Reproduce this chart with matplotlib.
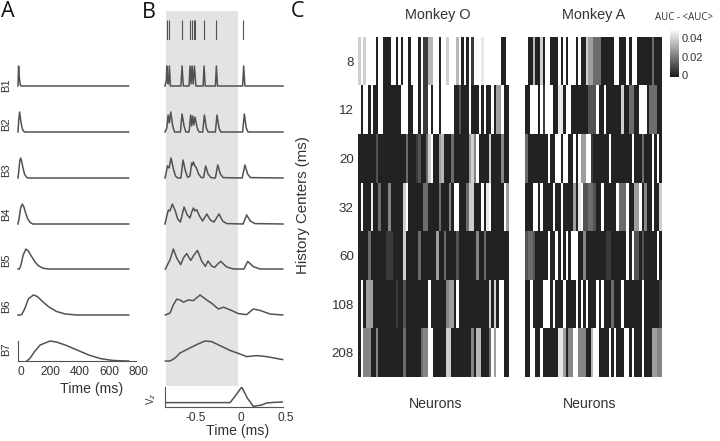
import numpy as np
import matplotlib
matplotlib.use('Agg')
import matplotlib.pyplot as plt
from matplotlib.colors import LinearSegmentedColormap
from matplotlib.transforms import ScaledTranslation

plt.rcParams['font.family'] = ['Liberation Sans', 'DejaVu Sans']

W, H = 720, 441
LINE = '#525252'
TEXT = '#333333'

# panel A, basis functions (time in ms, height 0-1)
a_t = [
    [0, 4, 8, 14, 20, 750],
    [0, 5, 11, 18, 26, 34, 44, 750],
    [0, 6, 12, 18, 26, 34, 44, 56, 66, 750],
    [0, 8, 18, 29, 40, 52, 66, 82, 100, 750],
    [0, 10, 20, 35, 54, 70, 90, 115, 140, 170, 205, 750],
    [0, 15, 25, 45, 70, 104, 130, 170, 210, 260, 320, 400, 750],
    [59, 80, 110, 150, 217, 260, 320, 400, 480, 560, 640, 725, 750],
]
a_y = [
    [0, 1, 0.5, 0.1, 0, 0],
    [0, 0.6, 1, 0.6, 0.25, 0.08, 0, 0],
    [0, 0.4, 0.85, 1, 0.8, 0.5, 0.2, 0.05, 0, 0],
    [0, 0.3, 0.8, 1, 0.85, 0.55, 0.25, 0.08, 0, 0],
    [0, 0, 0.2, 0.7, 1, 0.9, 0.65, 0.35, 0.15, 0.04, 0, 0],
    [0, 0, 0.02, 0.3, 0.8, 1, 0.93, 0.65, 0.4, 0.18, 0.05, 0, 0],
    [0, 0.12, 0.45, 0.8, 1, 0.95, 0.8, 0.55, 0.3, 0.12, 0.03, 0, 0],
]
basis_names = ['B1', 'B2', 'B3', 'B4', 'B5', 'B6', 'B7']

# panel B, spikes and filtered traces
spike_times = [-0.781, -0.752, -0.616, -0.524, -0.506, -0.484, -0.469, -0.37, -0.234, 0.063]

b_t = [
    [-0.80, -0.785, -0.78, -0.77, -0.762, -0.752, -0.74, -0.625, -0.612, -0.598, -0.535, -0.524, -0.513, -0.502,
     -0.49, -0.476, -0.46, -0.38, -0.37, -0.357, -0.245, -0.234, -0.222, 0.055, 0.067, 0.08, 0.5],
    [-0.80, -0.78, -0.766, -0.752, -0.737, -0.715, -0.695, -0.63, -0.612, -0.59, -0.57, -0.535, -0.517, -0.506,
     -0.495, -0.482, -0.469, -0.445, -0.425, -0.385, -0.366, -0.345, -0.325, -0.245, -0.227, -0.205, -0.185,
     0.055, 0.074, 0.095, 0.115, 0.5],
    [-0.80, -0.785, -0.774, -0.755, -0.733, -0.71, -0.685, -0.66, -0.625, -0.601, -0.575, -0.55, -0.525, -0.506,
     -0.497, -0.487, -0.472, -0.458, -0.43, -0.40, -0.375, -0.352, -0.325, -0.295, -0.245, -0.219, -0.19, -0.16,
     0.05, 0.081, 0.11, 0.14, 0.5],
    [-0.80, -0.78, -0.763, -0.745, -0.719, -0.69, -0.66, -0.63, -0.59, -0.555, -0.525, -0.505, -0.487, -0.47,
     -0.451, -0.42, -0.385, -0.34, -0.30, -0.26, -0.205, -0.165, -0.12, 0.06, 0.10, 0.14, 0.19, 0.5],
    [-0.796, -0.744, -0.708, -0.671, -0.627, -0.598, -0.561, -0.517, -0.48, -0.443, -0.396, -0.355, -0.326,
     -0.286, -0.253, -0.219, -0.186, -0.12, -0.047, 0.07, 0.111, 0.173, 0.247, 0.496],
    [-0.796, -0.744, -0.708, -0.671, -0.634, -0.598, -0.543, -0.487, -0.414, -0.341, -0.286, -0.212, -0.157,
     -0.084, 0.008, 0.1, 0.173, 0.247, 0.357, 0.496],
    [-0.796, -0.744, -0.689, -0.634, -0.561, -0.451, -0.359, -0.286, -0.194, -0.084, 0.026, 0.1, 0.21, 0.32, 0.496],
]
b_y = [
    [0, 0.3, 1, 0.15, 0.1, 1, 0, 0, 1, 0, 0, 1, 0.1, 1, 0.1, 1, 0, 0, 1, 0, 0, 1, 0, 0, 1, 0, 0],
    [0, 0.2, 0.85, 0.45, 1, 0.3, 0, 0, 0.9, 0.3, 0, 0, 0.85, 0.3, 0.8, 0.35, 0.75, 0.2, 0, 0, 0.85, 0.2, 0,
     0, 0.85, 0.2, 0, 0, 0.9, 0.2, 0, 0],
    [0, 0.3, 0.6, 0.5, 1, 0.5, 0.1, 0, 0, 0.9, 0.35, 0.03, 0.1, 0.75, 0.65, 0.8, 0.6, 0.55, 0.2, 0.02, 0.02,
     0.6, 0.2, 0.02, 0, 0.65, 0.2, 0.02, 0, 0.65, 0.2, 0.02, 0],
    [0, 0.4, 0.7, 0.65, 1, 0.7, 0.25, 0.1, 0.85, 0.45, 0.3, 0.6, 0.8, 0.65, 0.72, 0.4, 0.15, 0.5, 0.2, 0.1,
     0.5, 0.15, 0.02, 0, 0.45, 0.15, 0.02, 0],
    [0, 0.47, 1, 0.55, 0.22, 0.55, 0.77, 0.43, 0.7, 0.93, 0.4, 0.13, 0.4, 0.15, 0.08, 0.25, 0.38, 0.1, 0, 0,
     0.38, 0.12, 0, 0],
    [0, 0.1, 0.51, 0.79, 0.75, 0.64, 0.75, 0.72, 1, 0.75, 0.59, 0.3, 0.39, 0.26, 0.07, 0.02, 0.3, 0.23, 0.05, 0],
    [0, 0, 0.15, 0.4, 0.57, 0.82, 1, 0.97, 0.77, 0.53, 0.35, 0.22, 0.27, 0.22, 0.07],
]

vz_t = [-0.796, -0.084, -0.029, 0.045, 0.107, 0.173, 0.265, 0.32, 0.394, 0.496]
vz_y = [0.22, 0.22, 0.53, 1, 0.45, 0.03, 0.1, 0.2, 0.23, 0.25]

# panel C, AUC levels by history centre (one digit per neuron, 0 dark to 9 white)
history_centers = ['8', '12', '20', '32', '60', '108', '208']
auc_step = 0.0056

monkey_o = [
    '797999909900099090990999091166990997999690909199989999999009',
    '909909009900000009990099091190990999990020009000909009055900',
    '000000020000000000030001200379005600030000005749000070000400',
    '090008003000400000790000003300003000409900037700090890000095',
    '000030000001110000700000300000050030000200000004003000000000',
    '090555000000000100200000000090000004550900000000000070709900',
    '094440040000000000300000034499000007700000000406600039599900',
]
monkey_a = [
    '900600709900090909990900755333000009900090990000003000',
    '009990919990088099000000022290090000007003300999033300',
    '300000000900990990090955991000000900000000900030009090',
    '000990900009009000050892233200900000933390055904009007',
    '233200000900909090999004000000001100000090922020000090',
    '009000099909000900009090900090900030009000000090000001',
    '009900900000088504499444006990000909000990900090005544',
]

cbar_ticks = [0, 0.02, 0.04]
cbar_labels = ['0', '0.02', '0.04']

fig = plt.figure(figsize=(W / 100, H / 100), dpi=100)


def pixel_axes(left, top, right, bottom, **kw):
    ax = fig.add_axes([left / W, 1 - bottom / H, (right - left) / W, (bottom - top) / H], **kw)
    ax.patch.set_alpha(0)
    for s in ax.spines.values():
        s.set_visible(False)
    ax.set_xticks([])
    ax.set_yticks([])
    return ax


def label(x, y, s, size=10, **kw):
    kw.setdefault('color', TEXT)
    kw.setdefault('va', 'center')
    fig.text(x / W, 1 - y / H, s, fontsize=size, ha='center', **kw)


def bottom_axis(ax, ticks, shift):
    ax.spines['left'].set_visible(True)
    ax.spines['bottom'].set_visible(True)
    ax.spines['left'].set_color(LINE)
    ax.spines['bottom'].set_color(LINE)
    ax.spines['left'].set_linewidth(0.8)
    ax.spines['bottom'].set_linewidth(0.8)
    ax.set_xticks(ticks)
    ax.tick_params(axis='x', length=0, pad=3.5, labelsize=8.6, labelcolor=TEXT)
    for t in ax.get_xticklabels():
        t.set_transform(t.get_transform() + ScaledTranslation(shift / 100, 0, fig.dpi_scale_trans))


# panel A
tops_a = [66, 112, 158, 204, 249, 295, 341]
for i in range(7):
    ax = pixel_axes(18, tops_a[i], 136, tops_a[i] + 20)
    ax.plot(a_t[i], a_y[i], color=LINE, lw=1.1, clip_on=False)
    ax.set_xlim(0, 800)
    ax.set_ylim(0, 1)
    if i == 6:
        bottom_axis(ax, [0, 200, 400, 600, 800], 2.5)

for y, s in zip([85, 124, 170, 214, 260, 306, 349], basis_names):
    label(6, y, s, size=8, rotation=90)
label(92, 389, 'Time (ms)', size=10.2)

# panel B
bg = pixel_axes(165, 11, 283, 386)
bg.set_xlim(-0.8, 0.5)
bg.axvspan(-0.789, 0, color='#e3e3e3', lw=0)

ax = pixel_axes(165, 20, 283, 40)
ax.vlines(spike_times, 0, 1, color=LINE, lw=0.8)
ax.set_xlim(-0.8, 0.5)
ax.set_ylim(0, 1)

for i in range(7):
    ax = pixel_axes(165, tops_a[i], 283, tops_a[i] + 20)
    ax.plot(b_t[i], b_y[i], color=LINE, lw=1.1, clip_on=False)
    ax.set_xlim(-0.8, 0.5)
    ax.set_ylim(0, 1)

ax = pixel_axes(165, 387, 283, 407)
ax.plot(vz_t, vz_y, color=LINE, lw=1.1)
ax.set_xlim(-0.8, 0.5)
ax.set_ylim(0, 1)
bottom_axis(ax, [-0.5, 0, 0.5], 3)
ax.set_xticklabels(['-0.5', '0', '0.5'])
label(151, 399, 'V$_z$', size=7, rotation=90)
label(238, 431, 'Time (ms)', size=10.2)

# panel C
cmap = LinearSegmentedColormap.from_list('auc', ['#1a1a1a', '#ffffff'])


def heat(rows, left, right):
    vals = np.array([[int(c) for c in r] for r in rows]) * auc_step
    ax = pixel_axes(left, 37, right, 377)
    return ax, ax.imshow(vals, cmap=cmap, vmin=-0.002, vmax=0.05, aspect='auto', interpolation='nearest')


ax, im = heat(monkey_o, 358, 509)
ax.set_yticks(range(7))
ax.set_yticklabels(history_centers)
ax.tick_params(axis='y', length=0, pad=3, labelsize=9.6, labelcolor=TEXT)
heat(monkey_a, 525, 662)

cax = pixel_axes(670, 29, 679, 77)
cb = fig.colorbar(im, cax=cax)
cb.outline.set_visible(False)
cb.set_ticks(cbar_ticks)
cb.set_ticklabels(cbar_labels)
cax.tick_params(axis='y', length=0, pad=2, labelsize=8, labelcolor=TEXT, right=False)

label(438, 15, 'Monkey O', size=10.4)
label(594, 15, 'Monkey A', size=10.4)
label(436, 404, 'Neurons', size=10.2)
label(590, 404, 'Neurons', size=10.2)
label(303, 205, 'History Centers (ms)', size=10.8, rotation=90)
label(684, 18, 'AUC - <AUC>', size=7, family='Open Sans')

label(8, 17, 'A', size=15.5, family='Open Sans', color='#111111', va='baseline')
label(149, 18, 'B', size=15.5, family='Open Sans', color='#111111', va='baseline')
label(298, 17, 'C', size=15.5, family='Open Sans', color='#111111', va='baseline')

fig.savefig('out.png', dpi=100)
